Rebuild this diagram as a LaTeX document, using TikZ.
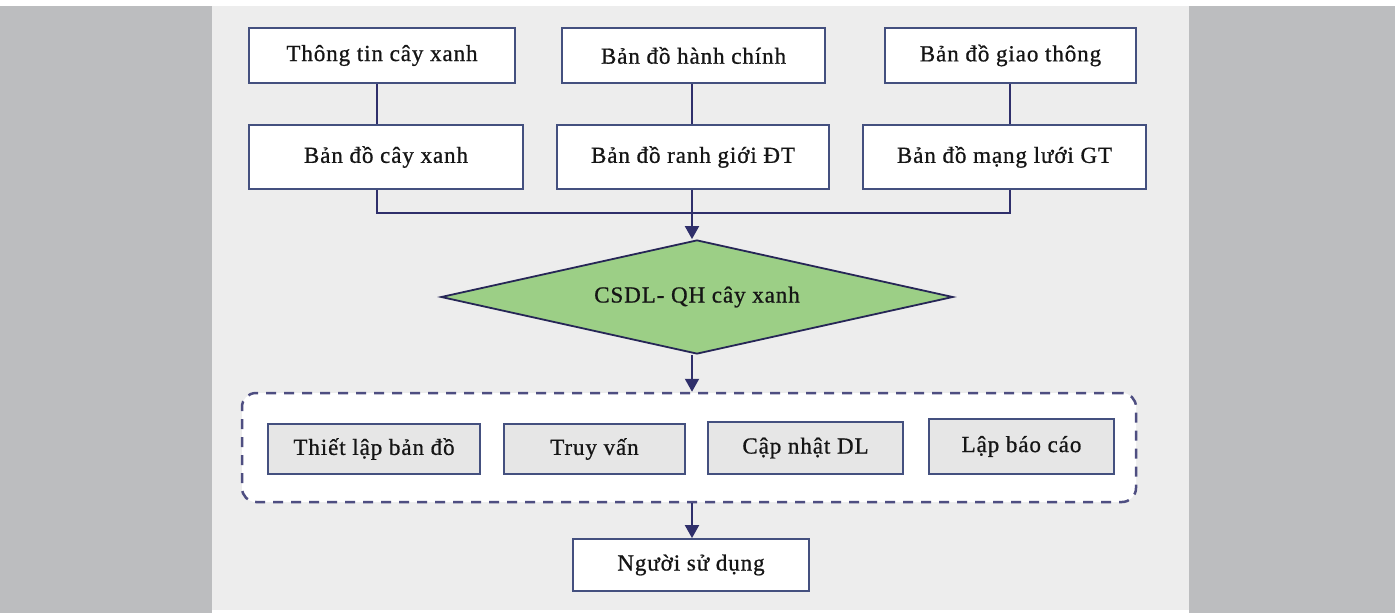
\documentclass[tikz,border=0pt]{standalone}
\usepackage{fontspec}
\setmainfont[LetterSpace=4,FakeBold=0.8]{Liberation Serif}
\usetikzlibrary{shapes.geometric,arrows.meta}
\definecolor{sidegray}{HTML}{BCBDBF}
\definecolor{midgray}{HTML}{EDEDED}
\definecolor{navy}{HTML}{2F2F6B}
\definecolor{boxline}{HTML}{44507F}
\definecolor{leaf}{HTML}{9CCF86}
\definecolor{innerfill}{HTML}{E6E6E6}
\definecolor{txt}{HTML}{151515}
\tikzset{
  lbl/.style={font=\fontsize{23}{27}\selectfont, text=txt},
  whitebox/.style={lbl, draw=boxline, line width=1.8pt, fill=white, inner sep=0pt},
  innerbox/.style={lbl, draw=boxline, line width=1.8pt, fill=innerfill, inner sep=0pt},
  link/.style={draw=navy, line width=2pt},
  arrowlink/.style={link, -{Triangle[width=14pt,length=13pt]}},
}
\begin{document}
\begin{tikzpicture}[x=1pt,y=-1pt]
\useasboundingbox (0,0) rectangle (1395,613);
\fill[white] (0,0) rectangle (1395,613);
\fill[midgray] (212,6) rectangle (1189,610);
\fill[sidegray] (0,6) rectangle (212,613);
\fill[sidegray] (1189,6) rectangle (1395,613);

% top row
\node[whitebox, minimum width=266pt, minimum height=55pt] (b1) at (382,55.5) {Thông tin cây xanh};
\node[whitebox, minimum width=263pt, minimum height=55pt] (b2) at (693.5,55.5) {Bản đồ hành chính};
\node[whitebox, minimum width=251pt, minimum height=55pt] (b3) at (1010.5,55.5) {Bản đồ giao thông};
% second row
\node[whitebox, minimum width=274pt, minimum height=64pt] (b4) at (386,157) {Bản đồ cây xanh};
\node[whitebox, minimum width=272pt, minimum height=64pt] (b5) at (693,157) {Bản đồ ranh giới ĐT};
\node[whitebox, minimum width=283pt, minimum height=64pt] (b6) at (1004.5,157) {Bản đồ mạng lưới GT};

\coordinate (cx1) at (377,0);
\coordinate (cx2) at (692,0);
\coordinate (cx3) at (1010,0);
\coordinate (j) at (692,213);

\draw[link] (b1.south -| cx1) -- (b4.north -| cx1);
\draw[link] (b2.south -| cx2) -- (b5.north -| cx2);
\draw[link] (b3.south -| cx3) -- (b6.north -| cx3);

% diamond
\node[lbl, draw=navy!80!black, line width=1.8pt, fill=leaf, diamond, aspect=4.5,
      minimum width=512pt, minimum height=114pt, inner sep=0pt] (dia) at (697,297) {CSDL- QH cây xanh};

\draw[link] (b4.south -| cx1) |- (j);
\draw[link] (b6.south -| cx3) |- (j);
\draw[arrowlink] (b5.south -| cx2) -- (dia.north -| cx2);

% dashed group
\node[draw=navy!85, line width=2.5pt, dash pattern=on 10pt off 8pt, fill=white,
      rounded corners=14pt, minimum width=894pt, minimum height=109pt, inner sep=0pt]
      (grp) at (689,447.5) {};
\node[innerbox, minimum width=212pt, minimum height=50pt] (i1) at (374,449) {Thiết lập bản đồ};
\node[innerbox, minimum width=181pt, minimum height=50pt] (i2) at (594.5,449) {Truy vấn};
\node[innerbox, minimum width=195pt, minimum height=52pt] (i3) at (805.5,448) {Cập nhật DL};
\node[innerbox, minimum width=185pt, minimum height=55pt] (i4) at (1021.5,446.5) {Lập báo cáo};

\draw[arrowlink] (dia.south -| cx2) -- (grp.north -| cx2);

% user
\node[whitebox, minimum width=236pt, minimum height=52pt] (u) at (691,565) {Người sử dụng};
\draw[arrowlink] (grp.south -| cx2) -- (u.north -| cx2);
\end{tikzpicture}
\end{document}
